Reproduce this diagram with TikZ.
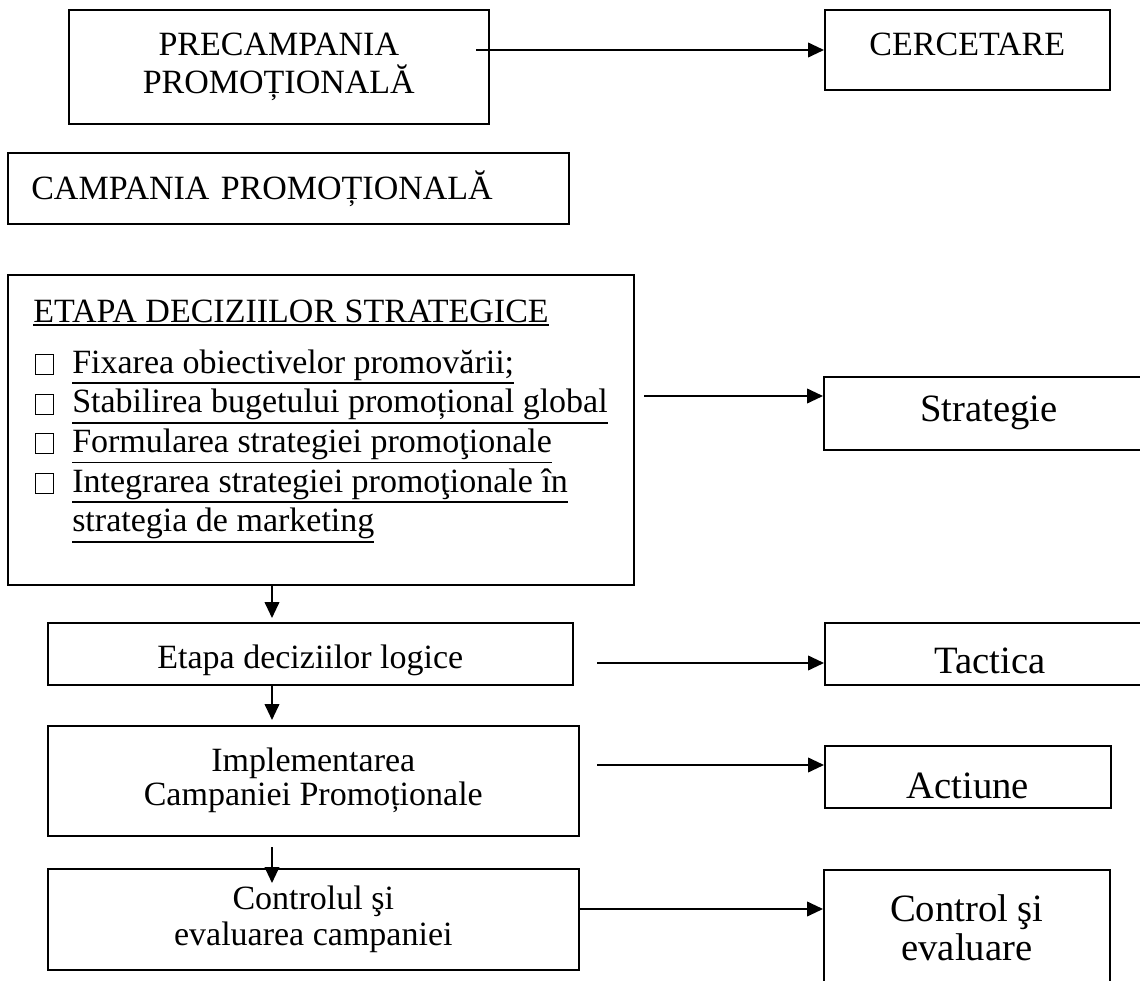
\documentclass[tikz,border=0pt]{standalone}
\usepackage{fontspec}
\setmainfont{Liberation Serif}
\usetikzlibrary{arrows.meta}
\newlength\pxu
\setlength\pxu{0.75pt}
\newcommand\myul[1]{\leavevmode\vtop{\hbox{#1}\kern1.6pt\hrule height 1.2pt}}
\begin{document}
\begin{tikzpicture}[x=0.75pt,y=-0.75pt,
  box/.style={draw, line width=1.2pt, inner sep=0pt, anchor=north west},
  lt/.style={font=\fontsize{25.5}{29}\selectfont},
  rt/.style={font=\fontsize{29}{29.5}\selectfont},
  arr/.style={line width=1.4pt, -{Triangle[length=12pt,width=11pt]}},
  sq/.style={draw, line width=0.5pt, minimum width=18\pxu, minimum height=20\pxu, inner sep=0pt, anchor=north west},
  item/.style={lt, anchor=base west, inner sep=0pt},
]
\clip (0,0) rectangle (1140,981);

% top row
\node[box, lt, minimum width=420\pxu, minimum height=114\pxu, align=center] (pre) at (68,9) {PRECAMPANIA\\PROMOȚIONALĂ};
\node[box, lt, minimum width=285\pxu, minimum height=80\pxu, text depth=9pt] (cerc) at (824,9) {CERCETARE};
\coordinate (p0) at (476,50);
\draw[arr] (p0) -- (p0 -| cerc.west);

% campania
\node[box, lt, minimum height=71\pxu, text width=514\pxu, inner xsep=23.5\pxu, align=left] (camp) at (7,152) {CAMPANIA PROMOȚIONALĂ};

% strategic stage
\node[box, minimum width=626\pxu, minimum height=310\pxu] (strat) at (7,274) {};
\node[item] (h) at (33,322) {\myul{ETAPA DECIZIILOR STRATEGICE}};
\node[sq] (s1) at (35,354) {};
\node[item] (i1) at (72,373) {\myul{Fixarea obiectivelor promovării;}};
\node[sq] (s2) at (35,393.7) {};
\node[item] (i2) at (72,412.7) {\myul{Stabilirea bugetului promoțional global}};
\node[sq] (s3) at (35,433.4) {};
\node[item] (i3) at (72,452.4) {\myul{Formularea strategiei promoţionale}};
\node[sq] (s4) at (35,473) {};
\node[item] (i4) at (72,492) {\myul{Integrarea strategiei promoţionale în}};
\node[item] (i5) at (72,531.8) {\myul{strategia de marketing}};

\node[box, rt, minimum width=330\pxu, minimum height=73\pxu] (strg) at (823,376) {Strategie};
\coordinate (s0) at (644,396);
\draw[arr] (s0) -- (s0 -| strg.west);

% logic stage
\node[box, lt, minimum width=525\pxu, minimum height=62\pxu, text height=27pt, text depth=5.5pt] (log) at (47,622) {Etapa deciziilor logice};
\node[box, rt, minimum width=330\pxu, minimum height=62\pxu, text height=29.7pt, text depth=0pt] (tac) at (824,622) {Tactica};
\coordinate (t0) at (597,663);
\draw[arr] (t0) -- (t0 -| tac.west);

% implementation
\node[box, font=\fontsize{25.5}{25.5}\selectfont, minimum width=531\pxu, minimum height=110\pxu, align=center] (imp) at (47,725) {Implementarea\\Campaniei Promoționale};
\node[box, rt, minimum width=286\pxu, minimum height=62\pxu, text height=32pt, text depth=0pt] (act) at (824,745) {Actiune};
\coordinate (a0) at (597,765);
\draw[arr] (a0) -- (a0 -| act.west);

% control
\node[box, font=\fontsize{25.5}{27.5}\selectfont, minimum width=531\pxu, minimum height=101\pxu, align=center] (ctrl) at (47,868) {Controlul şi\\evaluarea campaniei};
\node[box, rt, minimum width=286\pxu, minimum height=116\pxu, align=center] (cev) at (823,869) {Control şi\\evaluare};
\coordinate (c0) at (ctrl.east |- 0,909);
\draw[arr] (c0) -- (c0 -| cev.west);

% vertical arrows
\coordinate (d1) at (272,584);
\draw[arr, shorten >=3pt] (d1) -- (d1 |- log.north);
\coordinate (d2) at (272,684);
\draw[arr, shorten >=3.75pt] (d2) -- (d2 |- imp.north);
\coordinate (d3) at (272,847);
\coordinate (d3e) at (272,883);
\draw[arr] (d3) -- (d3e);
\end{tikzpicture}
\end{document}
